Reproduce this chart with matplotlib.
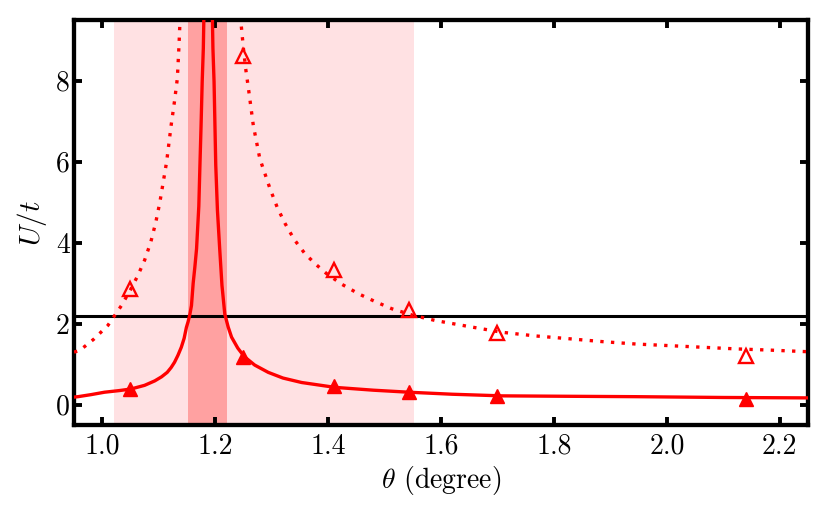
import numpy as np
import matplotlib
matplotlib.use('Agg')
import matplotlib.pyplot as plt

plt.rcParams['font.family'] = 'serif'
plt.rcParams['font.serif'] = ['cmr10', 'DejaVu Serif']
plt.rcParams['mathtext.fontset'] = 'cm'
plt.rcParams['axes.formatter.use_mathtext'] = True

# critical U/t, solid curve (left and right of the peak)
solid_left_x = [0.95, 0.957, 0.980, 1.004, 1.030, 1.051, 1.075, 1.093, 1.105, 1.115, 1.122,
                1.128, 1.134, 1.140, 1.145, 1.149, 1.152, 1.155, 1.158, 1.161, 1.164, 1.167,
                1.171, 1.173, 1.175, 1.177, 1.179, 1.180]
solid_left_y = [0.19, 0.20, 0.25, 0.31, 0.35, 0.39, 0.48, 0.59, 0.69, 0.80, 0.92,
                1.05, 1.22, 1.42, 1.64, 1.91, 2.05, 2.22, 2.45, 3.0, 3.4, 3.85,
                4.9, 5.92, 6.9, 7.98, 8.8, 9.6]
solid_right_x = [1.195, 1.196, 1.198, 1.201, 1.204, 1.208, 1.212, 1.217, 1.223, 1.229, 1.240,
                 1.2515, 1.270, 1.294, 1.320, 1.353, 1.412, 1.480, 1.543, 1.620, 1.708, 1.820,
                 1.944, 2.100, 2.247, 2.25]
solid_right_y = [9.6, 8.8, 7.98, 5.92, 4.8, 3.85, 2.95, 2.24, 1.92, 1.67, 1.40,
                 1.19, 0.98, 0.80, 0.66, 0.55, 0.43, 0.36, 0.31, 0.26, 0.22, 0.21,
                 0.20, 0.18, 0.17, 0.17]

# dotted curve
dot_left_x = [0.95, 0.960, 0.985, 1.010, 1.034, 1.050, 1.063, 1.075, 1.086, 1.095, 1.102,
              1.108, 1.114, 1.118, 1.122, 1.128, 1.133, 1.136, 1.138]
dot_left_y = [1.30, 1.34, 1.62, 1.96, 2.45, 2.84, 3.19, 3.57, 4.02, 4.52, 5.0,
              5.5, 6.0, 6.45, 6.9, 7.5, 8.06, 8.9, 9.6]
dot_right_x = [1.244, 1.2455, 1.250, 1.254, 1.259, 1.2675, 1.279, 1.297, 1.310, 1.324, 1.340,
               1.359, 1.378, 1.398, 1.425, 1.454, 1.483, 1.513, 1.550, 1.590, 1.650, 1.708,
               1.767, 1.827, 1.885, 1.945, 2.004, 2.063, 2.122, 2.182, 2.25]
dot_right_y = [9.6, 9.46, 8.8, 8.3, 7.8, 6.9, 6.08, 5.34, 4.87, 4.47, 4.08,
               3.73, 3.47, 3.23, 2.97, 2.74, 2.55, 2.37, 2.21, 2.08, 1.93, 1.79,
               1.70, 1.63, 1.56, 1.50, 1.46, 1.42, 1.38, 1.35, 1.31]

# calculated points
theta_pts = [1.05, 1.25, 1.41, 1.543, 1.70, 2.14]
u_filled = [0.39, 1.19, 0.46, 0.32, 0.22, 0.15]
u_open = [2.86, 8.6, 3.33, 2.34, 1.76, 1.20]

u_line = 2.2
span_wide = (1.021, 1.553)
span_narrow = (1.152, 1.221)

fig = plt.figure(figsize=(8.3, 5.13), dpi=100)
ax = fig.add_axes([0.0892, 0.1715, 0.8843, 0.7895])

ax.axvspan(*span_wide, color='#ffe1e3', lw=0, zorder=0)
ax.axvspan(*span_narrow, color='#ffa1a1', lw=0, zorder=0.5)

ax.axhline(u_line, color='black', lw=2.2, zorder=2)

red = '#ff0000'
ax.plot(solid_left_x, solid_left_y, color=red, lw=2.4, zorder=3)
ax.plot(solid_right_x, solid_right_y, color=red, lw=2.4, zorder=3)
ax.plot(dot_left_x, dot_left_y, color=red, lw=2.4, ls=(0, (1, 2.2)), zorder=3)
ax.plot(dot_right_x, dot_right_y, color=red, lw=2.4, ls=(0, (1, 2.2)), zorder=3)

ax.plot(theta_pts, u_filled, ls='none', marker='^', ms=9.5, color=red, zorder=4)
ax.plot(theta_pts, u_open, ls='none', marker='^', ms=9.5, mfc='none', mec=red, mew=1.7, zorder=4)

ax.set_xlim(0.95, 2.25)
ax.set_ylim(-0.5, 9.5)
ax.set_xticks([1.0, 1.2, 1.4, 1.6, 1.8, 2.0, 2.2])
ax.set_xticklabels(['1.0', '1.2', '1.4', '1.6', '1.8', '2.0', '2.2'])
ax.set_yticks([0, 2, 4, 6, 8])
ax.set_yticklabels(['0', '2', '4', '6', '8'])

for s in ax.spines.values():
    s.set_linewidth(3.1)
ax.tick_params(direction='in', top=True, right=True, length=6, width=2.8,
               labelsize=20)
ax.tick_params(axis='x', pad=6)
ax.tick_params(axis='y', pad=3)

ax.set_xlabel(r'$\theta$ (degree)', fontsize=20, labelpad=3)
ax.set_ylabel(r'$U/t$', fontsize=21, labelpad=5)

fig.savefig('out.png', dpi=100)
